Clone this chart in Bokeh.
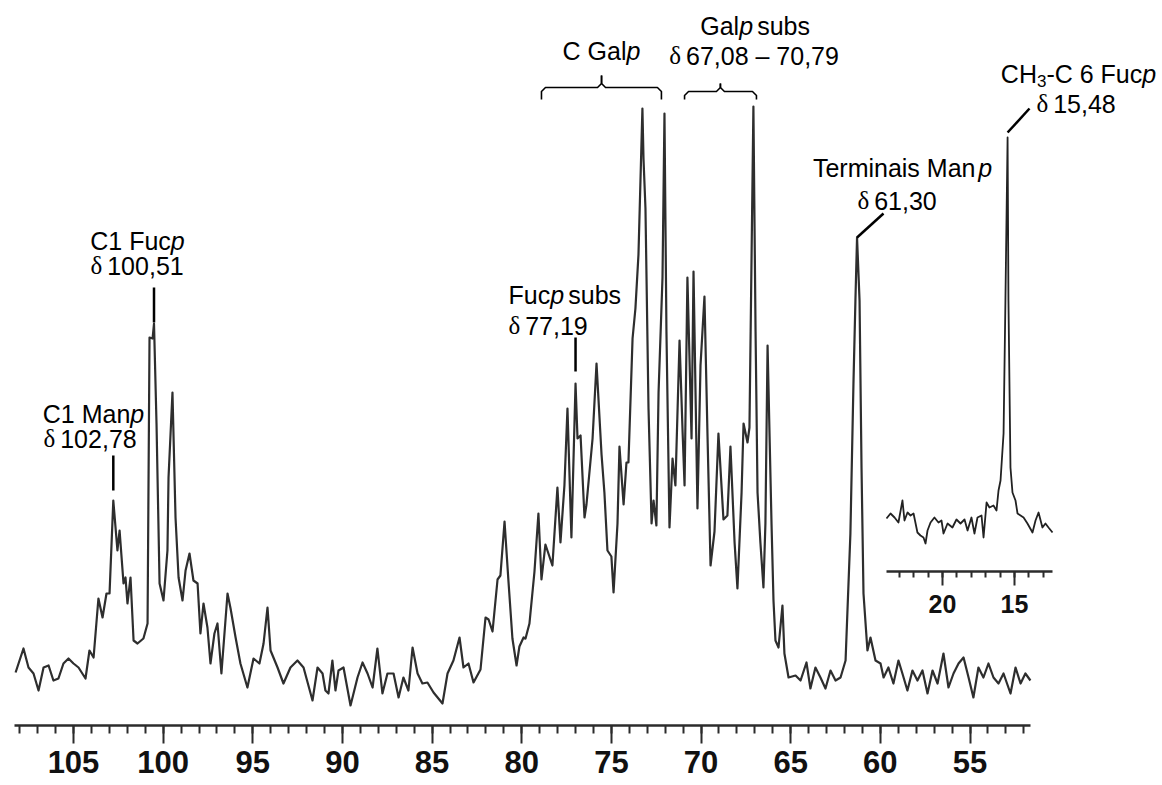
from bokeh.plotting import figure
from bokeh.models import Range1d, LinearAxis, FixedTicker
from bokeh.core.properties import value
from bokeh.embed import file_html
from bokeh.resources import INLINE

# ---------------- data ----------------
# main 13C spectrum: chemical shift (ppm) and intensity (arbitrary units, baseline ~0)
main_ppm = [108.23, 107.79, 107.51, 107.23, 106.95, 106.67, 106.39, 106.12, 105.84, 105.56,
            105.28, 105.00, 104.72, 104.33, 104.11, 103.88, 103.61, 103.38, 103.16, 102.99,
            102.78, 102.55, 102.43, 102.21, 102.10, 101.99, 101.82, 101.65, 101.43, 101.10,
            100.87, 100.76, 100.59, 100.51, 100.37, 100.20, 99.98, 99.76, 99.70, 99.48,
            99.31, 99.14, 98.92, 98.75, 98.53, 98.31, 98.08, 97.92, 97.75, 97.53,
            97.36, 97.14, 96.97, 96.75, 96.41, 96.24, 95.96, 95.69, 95.30, 94.96,
            94.63, 94.40, 94.18, 94.01, 93.62, 93.29, 92.90, 92.51, 92.17, 91.67,
            91.39, 91.11, 90.95, 90.78, 90.56, 90.39, 90.22, 89.94, 89.55, 89.16,
            88.88, 88.60, 88.32, 88.05, 87.77, 87.49, 87.15, 86.87, 86.60, 86.32,
            86.09, 85.81, 85.54, 85.26, 84.92, 84.42, 84.14, 83.81, 83.47, 83.25,
            82.97, 82.69, 82.30, 82.02, 81.85, 81.63, 81.35, 81.19, 80.96, 80.74,
            80.52, 80.29, 80.13, 79.90, 79.79, 79.57, 79.29, 79.07, 78.90, 78.68,
            78.29, 78.01, 77.84, 77.62, 77.45, 77.23, 77.00, 76.89, 76.72, 76.50,
            76.39, 76.05, 75.83, 75.55, 75.39, 75.22, 75.00, 74.88, 74.66, 74.55,
            74.32, 74.16, 74.05, 73.82, 73.66, 73.49, 73.27, 73.21, 73.10, 72.93,
            72.76, 72.65, 72.49, 72.37, 72.15, 72.04, 71.93, 71.76, 71.59, 71.43,
            71.20, 71.03, 70.92, 70.76, 70.53, 70.42, 70.20, 70.03, 69.81, 69.64,
            69.47, 69.25, 69.03, 68.75, 68.53, 68.36, 68.13, 67.97, 67.74, 67.63,
            67.41, 67.30, 67.08, 66.96, 66.85, 66.69, 66.52, 66.41, 66.29, 66.07,
            65.96, 65.85, 65.68, 65.46, 65.35, 65.12, 64.73, 64.45, 64.12, 63.90,
            63.62, 63.34, 63.06, 62.78, 62.50, 62.22, 61.94, 61.67, 61.50, 61.39,
            61.30, 61.16, 61.05, 60.94, 60.72, 60.55, 60.27, 59.99, 59.82, 59.55,
            59.27, 58.99, 58.77, 58.49, 58.21, 57.93, 57.65, 57.37, 57.09, 56.81,
            56.48, 56.20, 55.92, 55.64, 55.36, 55.08, 54.81, 54.53, 54.25, 53.97,
            53.69, 53.41, 53.13, 52.74, 52.46, 52.18, 51.91, 51.63]
main_int = [8, 32, 13, 7, -10, 13, 15, 0, 2, 17,
            22, 17, 13, 2, 30, 23, 82, 63, 87, 87,
            180, 130, 150, 97, 103, 77, 103, 40, 37, 42,
            57, 343, 342, 357, 257, 97, 80, 130, 203, 288,
            163, 103, 80, 110, 127, 100, 97, 47, 77, 53,
            17, 47, 57, 7, 87, 72, 43, 17, -7, 22,
            17, 37, 73, 30, 13, -3, 13, 20, 13, -20,
            13, 7, -10, -13, 20, -10, 10, 13, -25, 3,
            18, 7, -7, 32, -13, 7, 7, -17, 3, -10,
            33, 7, -3, -2, -12, -23, 7, 20, 43, 13,
            17, -2, 11, 63, 61, 49, 101, 105, 159, 99,
            42, 15, 34, 43, 42, 57, 109, 167, 101, 136,
            115, 193, 138, 195, 272, 143, 297, 242, 245, 163,
            176, 242, 317, 226, 188, 130, 124, 88, 157, 234,
            176, 218, 218, 342, 372, 426, 572, 522, 472, 272,
            157, 180, 155, 288, 403, 567, 349, 153, 222, 195,
            340, 249, 195, 403, 242, 409, 172, 315, 384, 245,
            115, 149, 247, 161, 165, 234, 138, 92, 188, 257,
            238, 253, 574, 349, 188, 138, 93, 157, 335, 157,
            80, 40, 33, 75, 27, 3, 5, 0, 18, -8,
            13, 3, -8, 10, 0, 3, 20, 147, 297, 380,
            443, 380, 213, 87, 30, 43, 20, 17, 3, 13,
            -3, 20, 7, -10, 10, 0, 10, -13, 10, -3,
            27, -7, 7, 17, 23, 3, -17, 13, 3, 17,
            3, -3, 7, -13, 13, -3, 7, 0]

# inset (CH3 region)
inset_ppm = [23.89, 23.61, 23.33, 23.06, 22.78, 22.64, 22.43, 22.22, 22.01, 21.74,
             21.53, 21.32, 21.18, 21.04, 20.83, 20.56, 20.28, 20.07, 19.93, 19.65,
             19.31, 19.03, 18.75, 18.47, 18.26, 17.99, 17.78, 17.57, 17.29, 17.15,
             16.94, 16.74, 16.46, 16.25, 16.11, 15.97, 15.76, 15.63, 15.48, 15.42,
             15.28, 15.14, 14.93, 14.79, 14.58, 14.37, 14.10, 13.75, 13.54, 13.33,
             13.06, 12.85, 12.64, 12.36]
inset_int = [162, 167, 163, 158, 180, 160, 168, 165, 167, 148,
             145, 143, 137, 150, 158, 163, 158, 160, 147, 157,
             153, 161, 157, 161, 150, 163, 147, 163, 165, 143,
             178, 173, 175, 170, 190, 200, 247, 380, 543, 380,
             213, 188, 180, 167, 165, 163, 157, 148, 160, 168,
             153, 157, 153, 148]

main_ticks = [105, 100, 95, 90, 85, 80, 75, 70, 65, 60, 55]
main_minor = list(range(52, 109))
inset_ticks = [20, 15]
inset_minor = list(range(13, 24))

# ---------------- layout calibration ----------------
W, H = 1162, 785
PX0, PPM0, PX_PER_PPM = 73.0, 105.0, 17.93      # main scale
IPX0, IPPM0, IPX_PER_PPM = 942.0, 20.0, 14.4    # inset scale
BASE = 680.0                                     # intensity 0 at this pixel row


def ppm_at(xpx):
    return PPM0 - (xpx - PX0) / PX_PER_PPM


def ippm_at(xpx):
    return IPPM0 - (xpx - IPX0) / IPX_PER_PPM


def int_at(ypx):
    return BASE - ypx


def x_of(ppm):
    return PX0 + (PPM0 - ppm) * PX_PER_PPM


p = figure(width=W, height=H,
           x_range=Range1d(ppm_at(0), ppm_at(W)),
           y_range=Range1d(int_at(H), int_at(0)),
           x_axis_type=None, y_axis_type=None,
           output_backend="svg", toolbar_location=None, min_border=0)
p.extra_x_ranges = {"inset": Range1d(ippm_at(0), ippm_at(W))}
p.outline_line_color = None
p.background_fill_color = "white"
p.border_fill_color = "white"
p.grid.visible = False

AX_COLOR = "#2b2b2b"


def style_axis(a, tick_out, minor_out, standoff, size):
    a.axis_line_width = 2.5
    a.axis_line_color = AX_COLOR
    a.major_tick_line_color = AX_COLOR
    a.minor_tick_line_color = AX_COLOR
    a.major_tick_line_width = 2
    a.minor_tick_line_width = 2
    a.major_tick_in = 0
    a.major_tick_out = tick_out
    a.minor_tick_in = 0
    a.minor_tick_out = minor_out
    a.major_label_standoff = standoff
    a.major_label_text_font = "Liberation Sans"
    a.major_label_text_font_style = "bold"
    a.major_label_text_font_size = size
    a.major_label_text_color = "#111111"


# main axis
ax = LinearAxis(fixed_location=int_at(725), bounds=(ppm_at(1030), ppm_at(14)))
ax.ticker = FixedTicker(ticks=main_ticks, minor_ticks=main_minor)
style_axis(ax, 18, 8, 7, "31px")
p.add_layout(ax, "below")

# inset axis
iax = LinearAxis(x_range_name="inset", fixed_location=int_at(571),
                 bounds=(ippm_at(1052), ippm_at(886)))
iax.ticker = FixedTicker(ticks=inset_ticks, minor_ticks=inset_minor)
style_axis(iax, 14, 6, 9, "25px")
p.add_layout(iax, "below")

# spectra
p.line(main_ppm, main_int, line_color="#2e2e2e", line_width=2.2, line_join="round")
p.line(inset_ppm, inset_int, x_range_name="inset", line_color="#222222",
       line_width=1.8, line_join="round")

# ---------------- annotations ----------------
LEAD_W = 2.5
leaders = [(102.78, 455, 490), (100.51, 287, 322), (77.00, 337, 371)]
p.segment(x0=[l[0] for l in leaders], y0=[int_at(l[1]) for l in leaders],
          x1=[l[0] for l in leaders], y1=[int_at(l[2]) for l in leaders],
          line_color="black", line_width=LEAD_W)
p.segment(x0=[61.30], y0=[int_at(237)], x1=[ppm_at(883)], y1=[int_at(213)],
          line_color="black", line_width=LEAD_W)
p.segment(x0=[15.48], y0=[int_at(132)], x1=[ippm_at(1029)], y1=[int_at(108)],
          line_color="black", line_width=LEAD_W, x_range_name="inset")


def bracket(left_ppm, right_ppm, mid_ppm, y_h, y_end, y_tip, r=4):
    xl, xr, xm = x_of(left_ppm), x_of(right_ppm), x_of(mid_ppm)
    left = [(xl, y_end), (xl, y_h + r), (xl + r, y_h), (xm - r, y_h), (xm, y_h - r), (xm, y_tip)]
    right = [(xm, y_tip), (xm, y_h - r), (xm + r, y_h), (xr - r, y_h), (xr, y_h + r), (xr, y_end)]
    xs = [[ppm_at(a) for a, b in seg] for seg in (left, right)]
    ys = [[int_at(b) for a, b in seg] for seg in (left, right)]
    p.multi_line(xs, ys, line_color="black", line_width=1.6, line_join="round")


bracket(78.90, 72.21, 75.55, 87, 99, 75)
bracket(70.92, 66.91, 68.92, 91, 99, 83)

EM = {' ': 0.278, ',': 0.278, '-': 0.333, '–': 0.556, 'C': 0.722, 'H': 0.722, 'M': 0.833,
      'F': 0.611, 'G': 0.778, 'T': 0.611, 'a': 0.556, 'b': 0.556, 'c': 0.5, 'e': 0.556,
      'i': 0.222, 'l': 0.222, 'm': 0.833, 'n': 0.556, 'p': 0.556, 'r': 0.333, 's': 0.5,
      'u': 0.556, 'δ': 0.5}
FS = 25


def seg_width(s, size):
    return sum(EM.get(ch, 0.556) for ch in s) * size


def label(parts, x_px, y_px, align="center"):
    # parts: (text, kind) with kind in normal / italic / sub / serif
    sizes = [17 if k == "sub" else FS for t, k in parts]
    widths = [seg_width(t, s) for (t, k), s in zip(parts, sizes)]
    total = sum(widths)
    x = x_px - total / 2 if align == "center" else x_px
    for (t, k), s, w in zip(parts, sizes, widths):
        lead = len(t) - len(t.lstrip(" "))
        tx = x + lead * EM[' '] * s * (0.6 if k == "normal" and x != x_px else 1.0)
        dy = 7 if k == "sub" else 0
        font = "Liberation Serif" if k == "serif" else "Liberation Sans"
        style = "italic" if k == "italic" else "normal"
        p.text(x=[ppm_at(tx)], y=[int_at(y_px + dy)], text=[t.lstrip(" ")],
               text_font=value(font), text_font_size=value(f"{s}px"),
               text_font_style=style, text_align="left", text_baseline="middle",
               text_color="black")
        x += w


label([("C1 Man", "normal"), ("p", "italic")], 93, 413)
label([("δ", "serif"), (" 102,78", "normal")], 91, 438)
label([("C1 Fuc", "normal"), ("p", "italic")], 137, 240)
label([("δ", "serif"), (" 100,51", "normal")], 138, 265)
label([("Fuc", "normal"), ("p", "italic"), (" subs", "normal")], 508, 294, "left")
label([("δ", "serif"), (" 77,19", "normal")], 508, 325, "left")
label([("C Gal", "normal"), ("p", "italic")], 601, 50)
label([("Gal", "normal"), ("p", "italic"), (" subs", "normal")], 756, 25)
label([("δ", "serif"), (" 67,08 – 70,79", "normal")], 755, 55)
label([("Terminais Man", "normal"), ("p", "italic")], 902, 167)
label([("δ", "serif"), (" 61,30", "normal")], 898, 200)
label([("CH", "normal"), ("3", "sub"), ("-C 6 Fuc", "normal"), ("p", "italic")], 1078, 73)
label([("δ", "serif"), (" 15,48", "normal")], 1077, 103)

open("out.html", "w").write(file_html(p, INLINE))
